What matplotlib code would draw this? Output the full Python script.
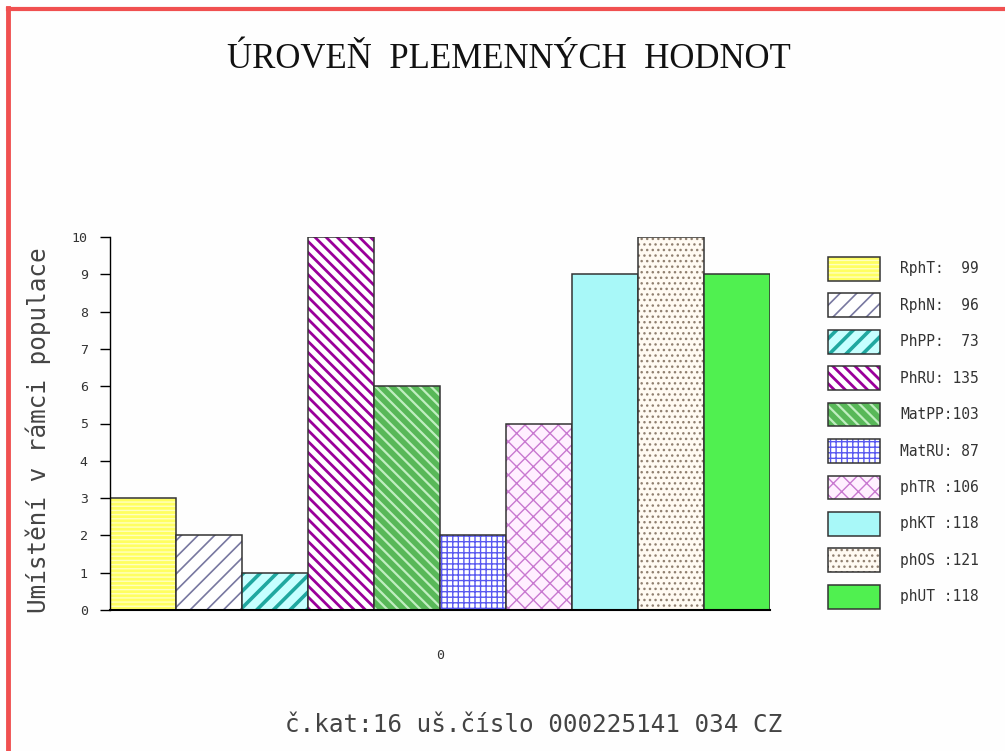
import matplotlib
matplotlib.use("Agg")
import matplotlib.pyplot as plt
from matplotlib.legend_handler import HandlerTuple

# --- data ---
names = ["RphT:", "RphN:", "PhPP:", "PhRU:", "MatPP:", "MatRU:",
         "phTR :", "phKT :", "phOS :", "phUT :"]
hodnoty = [99, 96, 73, 135, 103, 87, 106, 118, 121, 118]
umisteni = [3, 2, 1, 10, 6, 2, 5, 9, 10, 9]
x_labels = ["0"]

# styles: (face, hatch, hatch colour, hatch linewidth)
styles = [
    ("#ffff60", "----", "#ffffc0", 1.0),
    ("#ffffff", "//", "#7878a0", 1.2),
    ("#c8ffff", "//", "#20a8a0", 2.6),
    ("#ffffff", "\\\\\\", "#9a009a", 2.0),
    ("#58b858", "\\\\\\", "#c0eec0", 1.6),
    ("#ffffff", "+++", "#5858f0", 1.0),
    ("#fff0ff", "xx", "#c878d0", 1.0),
    ("#a8f8f8", None, None, 1.0),
    ("#fffaf2", "...", "#908070", 1.0),
    ("#50f050", None, None, 1.0),
]

mono = "DejaVu Sans Mono"
W, H = 1005, 751
fig = plt.figure(figsize=(W / 100, H / 100), dpi=100)
fig.patch.set_facecolor("#fefefe")

ax = fig.add_axes([110 / W, 1 - 610 / H, 660 / W, 373 / H])
ax.set_facecolor("none")

fills, edges = [], []
for i, (val, st) in enumerate(zip(umisteni, styles)):
    face, hatch, hcol, hlw = st
    with plt.rc_context({"hatch.linewidth": hlw}):
        b = ax.bar(i, val, width=1.0, color=face, edgecolor=hcol if hcol else face,
                   hatch=hatch, linewidth=0)
    if hasattr(b[0], "set_hatch_linewidth"):
        b[0].set_hatch_linewidth(hlw)
    e = ax.bar(i, val, width=1.0, fill=False, edgecolor="#333333", linewidth=1.1)
    fills.append(b[0])
    edges.append(e[0])

ax.set_xlim(-0.5, len(umisteni) - 0.5)
ax.set_ylim(0, 10)
ax.set_yticks(range(0, 11))
ax.set_xticks([(len(umisteni) - 1) / 2])
ax.set_xticklabels(x_labels, fontfamily=mono, fontsize=9.5, color="#333333")
ax.tick_params(axis="x", length=0, pad=28)
ax.tick_params(axis="y", length=7, width=1, direction="out", pad=9,
               labelsize=9.5, labelcolor="#333333")
for t in ax.get_yticklabels():
    t.set_fontfamily(mono)
for s in ["top", "right"]:
    ax.spines[s].set_visible(False)
ax.spines["left"].set_linewidth(1.0)
ax.spines["bottom"].set_linewidth(1.5)

# legend
labels = [n.ljust(6) + str(v).rjust(3) for n, v in zip(names, hodnoty)]
fs = 10.5
fpx = fs * 100 / 72
leg = fig.legend([(f, e) for f, e in zip(fills, edges)], labels,
                 handler_map={tuple: HandlerTuple(ndivide=1)},
                 loc="upper left", bbox_to_anchor=(828 / W, 1 - 257 / H),
                 frameon=False, borderpad=0, borderaxespad=0,
                 handlelength=52 / fpx, handleheight=31 / fpx,
                 labelspacing=12.7 / fpx, handletextpad=20 / fpx,
                 prop={"family": mono, "size": fs})
for t in leg.get_texts():
    t.set_color("#333333")
for h, st in zip(leg.legend_handles, styles):
    if hasattr(h, "set_hatch_linewidth"):
        h.set_hatch_linewidth(st[3])

# texts
fig.text(509 / W, 1 - 60 / H, "ÚROVEŇ  PLEMENNÝCH  HODNOT",
         fontfamily="Liberation Serif", fontsize=25, ha="center", va="center",
         color="#111111")
fig.text(38 / W, 1 - 430 / H, "Umístění v rámci populace", rotation=90,
         fontfamily=mono, fontsize=17.5, ha="center", va="center", color="#444444")
fig.text(534 / W, 1 - 725 / H, "č.kat:16 uš.číslo 000225141 034 CZ",
         fontfamily=mono, fontsize=17.5, ha="center", va="center", color="#444444")

# red frame (left and top)
fig.add_artist(plt.Line2D([8 / W, 8 / W], [0, 1 - 8 / H], color="#f05050",
                          linewidth=3.5, transform=fig.transFigure))
fig.add_artist(plt.Line2D([8 / W, 1], [1 - 9 / H, 1 - 9 / H], color="#f05050",
                          linewidth=3.0, transform=fig.transFigure))

fig.savefig("out.png", dpi=100, facecolor=fig.get_facecolor())
